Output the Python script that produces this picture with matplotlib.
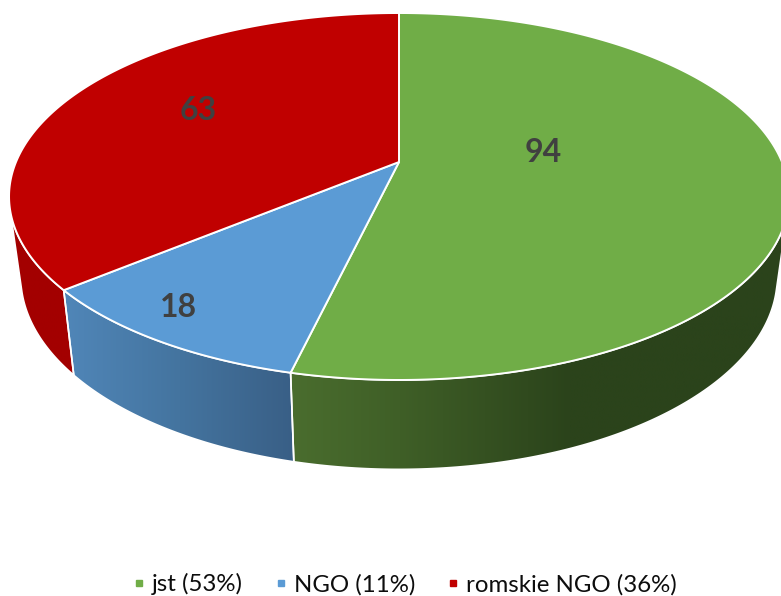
import numpy as np
import matplotlib
matplotlib.use("Agg")
import matplotlib.pyplot as plt
from matplotlib.colors import LinearSegmentedColormap
from matplotlib.lines import Line2D
from matplotlib.patches import Polygon

plt.rcParams['font.family'] = ['Lato', 'DejaVu Sans']

names = ["jst", "NGO", "romskie NGO"]
values = [94, 18, 63]
percents = [53, 11, 36]
colors = ["#70ad47", "#5b9bd5", "#c00000"]

# pie drawn in pixel coordinates of the reference
CX, CY = 399, 162
A, B, P = 383, 177, 0.188
SIDE_SCALE_X = 0.97
SIDE_SCALE_Y = 1.049
SIDE_Y0 = 240.7
FRONT = (105, 255)  # visible part of the rim, degrees clockwise from top

# side shading: (x pixel, colour)
side_stops = [
    [(291, "#4a6d2e"), (400, "#3f5f27"), (570, "#2b431b"), (790, "#2b431b")],
    [(65, "#5086b8"), (180, "#44749f"), (294, "#395f86")],
    [(10, "#a30000"), (80, "#a30000")],
]
label_pos = [(543, 152.5), (178, 307.5), (198, 110.5)]


def top_xy(deg):
    t = np.radians(deg)
    u, v = np.sin(t), np.cos(t)
    d = 1 + P * v
    return CX + A * u / d, CY - B * v / d


def bottom_xy(deg):
    x, y = top_xy(deg)
    return CX + SIDE_SCALE_X * (x - CX), SIDE_Y0 + SIDE_SCALE_Y * (y - CY)


fig = plt.figure(figsize=(7.81, 5.96), dpi=100)
ax = fig.add_axes([0, 0, 1, 1])

edges = np.cumsum([0] + values) / sum(values) * 360

for i in range(len(values)):
    # rim first, so the top face covers its upper edge
    lo = max(edges[i], FRONT[0])
    hi = min(edges[i + 1], FRONT[1])
    ang = np.linspace(lo, hi, 200)
    tx, ty = top_xy(ang)
    bx, by = bottom_xy(ang)
    pts = np.column_stack([np.r_[tx, bx[::-1]], np.r_[ty, by[::-1]]])

    stops = side_stops[i]
    x0, x1 = stops[0][0], stops[-1][0]
    cmap = LinearSegmentedColormap.from_list(
        "side%d" % i, [((x - x0) / (x1 - x0), c) for x, c in stops], N=512)
    rim = Polygon(pts, closed=True, facecolor="none", edgecolor="none")
    ax.add_patch(rim)
    im = ax.imshow(np.linspace(0, 1, 512).reshape(1, -1), cmap=cmap, aspect="auto",
                   extent=(x0, x1, 480, 150), interpolation="bilinear", zorder=1)
    im.set_clip_path(rim)
    ax.add_patch(Polygon(pts, closed=True, facecolor="none", edgecolor="white",
                         linewidth=1.2, zorder=2))

for i in range(len(values)):
    ang = np.linspace(edges[i], edges[i + 1], 300)
    tx, ty = top_xy(ang)
    pts = np.column_stack([np.r_[CX, tx], np.r_[CY, ty]])
    ax.add_patch(Polygon(pts, closed=True, facecolor=colors[i], edgecolor="white",
                         linewidth=1.4, joinstyle="round", zorder=3))
    ax.text(label_pos[i][0], label_pos[i][1], str(values[i]), color="#404040",
            fontsize=23, fontweight="bold", ha="center", va="center", zorder=4)

ax.set_xlim(0, 781)
ax.set_ylim(596, 0)
ax.axis("off")

handles = [Line2D([], [], linestyle="none", marker="s", markersize=5, color=c) for c in colors]
labels = ["%s (%d%%)" % (n, p) for n, p in zip(names, percents)]
ax.legend(handles, labels, loc="lower center", bbox_to_anchor=(0.507, -0.035), ncol=3,
          frameon=False, fontsize=17.3, handletextpad=-0.48, columnspacing=0.6,
          labelcolor="#0d0d0d")

fig.savefig("out.png", dpi=100)
